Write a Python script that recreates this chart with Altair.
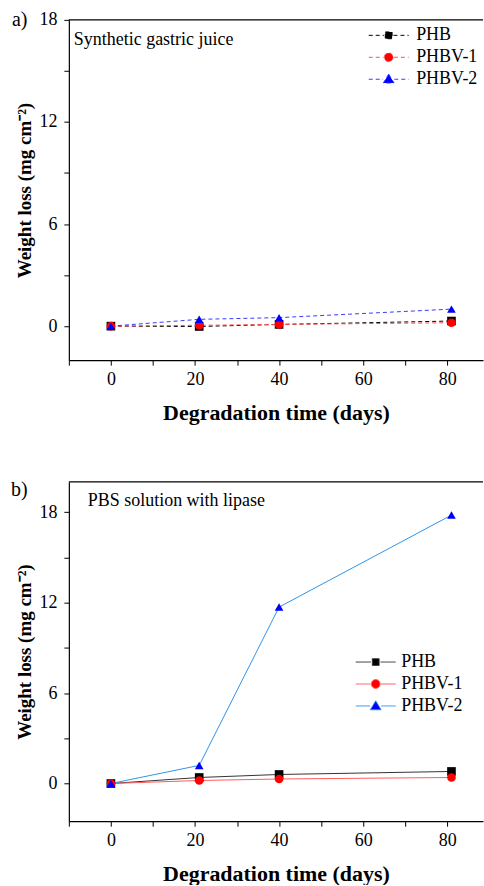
import altair as alt
import pandas as pd

# ---------------- data ----------------
days = [0, 21, 40, 81]
series_names = ["PHB", "PHBV-1", "PHBV-2"]

# a) Synthetic gastric juice
a_phb = [0.0, -0.02, 0.1, 0.3]
a_phbv1 = [0.0, 0.05, 0.1, 0.2]
a_phbv2 = [0.0, 0.4, 0.5, 1.0]

# b) PBS solution with lipase
b_phb = [0.0, 0.4, 0.6, 0.8]
b_phbv1 = [0.0, 0.2, 0.3, 0.4]
b_phbv2 = [0.0, 1.2, 11.7, 17.8]

x_ticks = [-10, 0, 10, 20, 30, 40, 50, 60, 70, 80]
y_ticks = [0, 3, 6, 9, 12, 15, 18]

marker_colors = ["#000000", "#ff0000", "#0000ff"]
line_colors_a = ["#000000", "#ff4d4d", "#3a3aff"]
line_colors_b = ["#333333", "#ff5a5a", "#2f95e8"]
marker_shapes = ["square", "circle", "triangle-up"]

legend_paths = [
    "M-2,0H-0.48M0.48,0H2M-0.34,-0.34H0.34V0.34H-0.34Z",
    "M-2,0H-0.52M0.52,0H2M0.44,0A0.44,0.44 0 1,1 -0.44,0A0.44,0.44 0 1,1 0.44,0Z",
    "M-2,0H-0.56M0.56,0H2M0,-0.52L0.54,0.38H-0.54Z",
]

FONT = "Liberation Serif"
PANEL_W = 415


def make_df(vals):
    rows = []
    for name, v in zip(series_names, vals):
        for d, w in zip(days, v):
            rows.append({"day": d, "loss": w, "series": name, "Sample": name})
    return pd.DataFrame(rows)


def panel(vals, line_colors, dash, ydom, height, note, tag,
          note_xy, tag_xy, leg_xy, label_offset):
    df = make_df(vals)
    x = alt.X("day:Q",
              scale=alt.Scale(domain=[-10, 88.5], nice=False, zero=False),
              axis=alt.Axis(values=x_ticks,
                            labelExpr="datum.value >= 0 && datum.value % 20 == 0 ? datum.label : ''",
                            title="Degradation time (days)", titleFontSize=22))
    y = alt.Y("loss:Q",
              scale=alt.Scale(domain=ydom, nice=False, zero=False),
              axis=alt.Axis(values=y_ticks,
                            labelExpr="datum.value % 6 == 0 ? datum.label : ''",
                            title="Weight loss (mg cm⁻²)", titleFontSize=19))
    base = alt.Chart(df)
    line_kw = {"strokeWidth": 1}
    if dash:
        line_kw["strokeDash"] = dash
    lines = base.mark_line(**line_kw).encode(
        x=x, y=y,
        color=alt.Color("series:N", scale=alt.Scale(domain=series_names, range=line_colors), legend=None),
        detail="series:N",
    )
    points = base.mark_point(filled=True, size=75, opacity=1).encode(
        x=x, y=y,
        shape=alt.Shape("series:N", scale=alt.Scale(domain=series_names, range=marker_shapes), legend=None),
        fill=alt.Fill("series:N", scale=alt.Scale(domain=series_names, range=marker_colors), legend=None),
    )
    legend_layer = base.mark_point(filled=True, opacity=0, size=10).encode(
        x=x, y=y,
        shape=alt.Shape("Sample:N", scale=alt.Scale(domain=series_names, range=legend_paths),
                        legend=alt.Legend(title=None, orient="none",
                                          legendX=leg_xy[0], legendY=leg_xy[1],
                                          symbolSize=400, symbolOpacity=1,
                                          symbolStrokeWidth=1,
                                          symbolDash=dash if dash else [1, 0],
                                          labelFont=FONT, labelFontSize=18,
                                          labelColor="black", labelOffset=label_offset,
                                          rowPadding=2)),
        fill=alt.Fill("Sample:N", scale=alt.Scale(domain=series_names, range=marker_colors)),
        stroke=alt.Stroke("Sample:N", scale=alt.Scale(domain=series_names, range=line_colors)),
    )
    one = alt.Chart(pd.DataFrame({"t": [note], "g": [tag]}))
    frame_top = one.mark_rule(color="black", strokeWidth=1.2).encode(y=alt.value(0))
    note_text = one.mark_text(align="left", baseline="middle", font=FONT, fontSize=18,
                              color="black").encode(
        x=alt.value(note_xy[0]), y=alt.value(note_xy[1]), text="t:N")
    tag_text = one.mark_text(align="left", baseline="middle", font=FONT, fontSize=20,
                             color="black").encode(
        x=alt.value(tag_xy[0]), y=alt.value(tag_xy[1]), text="g:N")
    return alt.layer(lines, points, legend_layer, frame_top, note_text, tag_text).resolve_scale(
        color="independent", fill="independent", stroke="independent", shape="independent"
    ).resolve_legend(
        color="independent", fill="independent", stroke="independent", shape="independent"
    ).properties(width=PANEL_W, height=height)


pa = panel([a_phb, a_phbv1, a_phbv2], line_colors_a, [4, 3], [-2, 18], 341,
           "Synthetic gastric juice", "a)", (5, 20), (-57, 0), (310, 5), 17)
pb = panel([b_phb, b_phbv1, b_phbv2], line_colors_b, None, [-2.5, 20], 340,
           "PBS solution with lipase", "b)", (19, 19), (-58, 8), (297, 170), 15)

chart = alt.vconcat(pa, pb, spacing=57).properties(
    padding={"left": 11, "top": 9, "right": 0, "bottom": 0}
).configure_view(stroke=None).configure_axis(
    grid=False,
    domainColor="black", domainWidth=1.2,
    tickColor="black", tickSize=5, tickWidth=1,
    labelFont=FONT, labelFontSize=18, labelColor="black",
    titleFont=FONT, titleFontWeight="bold", titleColor="black",
).configure_axisX(labelPadding=5, titlePadding=14).configure_axisY(labelPadding=7, titlePadding=4)

chart.save("out.html", embed_options={"renderer": "svg", "actions": False})
